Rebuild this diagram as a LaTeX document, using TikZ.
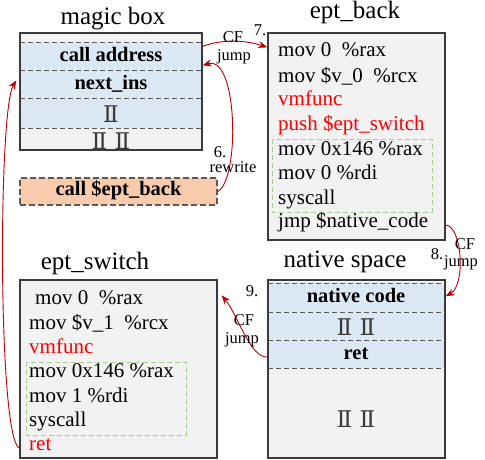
\documentclass[tikz,border=0pt]{standalone}
\usepackage{fontspec}
\setmainfont{Liberation Serif}
\newfontfamily\numeralfont{DejaVu Serif}
\usetikzlibrary{arrows.meta}
\definecolor{boxgray}{HTML}{3A3A3A}
\definecolor{dashgray}{HTML}{5A5A5A}
\definecolor{panelfill}{HTML}{F2F2F2}
\definecolor{bandfill}{HTML}{DCE8F4}
\definecolor{peach}{HTML}{F8CBAD}
\definecolor{leaf}{HTML}{A9D18E}
\definecolor{flowred}{HTML}{C00000}
\definecolor{hot}{HTML}{FF0000}
\tikzset{
  panel/.style={draw=boxgray, line width=1.3pt, fill=panelfill, inner sep=0pt},
  rim/.style={draw=boxgray, line width=1.3pt},
  sep/.style={draw=dashgray, dashed, dash pattern=on 5pt off 3pt, line width=1pt},
  greenbox/.style={draw=leaf, dashed, dash pattern=on 5pt off 3pt, line width=0.9pt},
  flow/.style={draw=flowred, line width=0.9pt, -{Stealth[length=9pt,width=7pt]}},
  title/.style={anchor=mid, inner sep=0pt, font=\fontsize{25}{25}\selectfont},
  code/.style={anchor=mid west, inner sep=0pt, font=\fontsize{21}{21}\selectfont},
  redcode/.style={code, text=hot},
  slot/.style={anchor=mid, inner sep=0pt, font=\fontsize{20.5}{20.5}\selectfont\bfseries},
  gap/.style={anchor=center, inner sep=0pt, font=\numeralfont\fontsize{23}{23}\selectfont, text=boxgray},
  lbl/.style={anchor=center, inner sep=0pt, font=\fontsize{16.5}{16.5}\selectfont},
}
\begin{document}
\begin{tikzpicture}[x=1pt,y=-1pt]
\useasboundingbox (0,0) rectangle (485,460);

% ---------- magic box ----------
\node[title] (tmagic) at (113,22) {magic box};
\node[panel, minimum width=182pt, minimum height=117pt] (magic) at (111,91.5) {};
\fill[bandfill] (20.6,43) rectangle (201.4,128);
\draw[sep] (20,43) -- (202,43);
\draw[sep] (20,71) -- (202,71);
\draw[sep] (20,99) -- (202,99);
\draw[sep] (20,128) -- (202,128);
\draw[rim] (magic.north west) rectangle (magic.south east);
\node[slot] (addr) at (111,59) {call address};
\node[slot] (nexti) at (111,87) {next\_ins};
\node[gap] (mgap1) at (111,114) {Ⅱ};
\node[gap] (mgap2) at (111,141) {Ⅱ Ⅱ};

% ---------- call stub ----------
\node[draw=dashgray, dashed, dash pattern=on 6pt off 3pt, line width=1.3pt, fill=peach,
      minimum width=197pt, minimum height=27pt, inner sep=0pt] (callback) at (118.5,191.5) {};
\node[slot] (callt) at (118.5,193) {call \$ept\_back};

% ---------- ept_back ----------
\node[title] (tback) at (355,16) {ept\_back};
\node[panel, minimum width=177pt, minimum height=207pt] (eptback) at (356.5,136.5) {};
\draw[greenbox] (272,139) rectangle (432,212);
\node[code] (b1) at (278,54) {mov 0\ \ \%rax};
\node[code] (b2) at (278,80) {mov \$v\_0\ \ \%rcx};
\node[redcode] (b3) at (278,103) {vmfunc};
\node[redcode] (b4) at (278,128) {push \$ept\_switch};
\node[code] (b5) at (278,153) {mov 0x146 \%rax};
\node[code] (b6) at (278,177) {mov 0 \%rdi};
\node[code] (b7) at (278,202) {syscall};
\node[code] (jmpn) at (278,225) {jmp \$native\_code};

% ---------- ept_switch ----------
\node[title] (tswitch) at (95,267) {ept\_switch};
\node[panel, minimum width=197pt, minimum height=178pt] (eptswitch) at (118.5,369) {};
\draw[greenbox] (26,362) rectangle (186,435);
\node[code] (s1) at (35,302) {mov 0\ \ \%rax};
\node[code] (s2) at (29,327) {mov \$v\_1\ \ \%rcx};
\node[redcode] (s3) at (29,351) {vmfunc};
\node[code] (s4) at (29,375) {mov 0x146 \%rax};
\node[code] (s5) at (29,400) {mov 1 \%rdi};
\node[code] (s6) at (29,424) {syscall};
\node[redcode] (retb) at (29,448) {ret};

% ---------- native space ----------
\node[title] (tnative) at (345,265) {native space};
\node[panel, minimum width=177pt, minimum height=178pt] (native) at (356.5,369) {};
\fill[bandfill] (268.6,283) rectangle (444.4,368);
\draw[sep] (268,283) -- (445,283);
\draw[sep] (268,312) -- (445,312);
\draw[sep] (268,340) -- (445,340);
\draw[sep] (268,368) -- (445,368);
\draw[rim] (native.north west) rectangle (native.south east);
\node[slot] (ncode) at (356,300) {native code};
\node[gap] (ngap1) at (356,327) {Ⅱ Ⅱ};
\node[slot] (nret) at (356,357) {ret};
\node[gap] (ngap2) at (356,419) {Ⅱ Ⅱ};

% ---------- control-flow arrows ----------
% 6. rewrite
\draw[flow] (callback.east) .. controls (240,180) and (238,55) .. ([yshift=-33pt]magic.north east);
\node[lbl] (l6) at (220,152) {6.};
\node[lbl] (l6b) at (233,167) {rewrite};
% 7. CF jump
\draw[flow] ([yshift=-14pt]magic.north east) .. controls (225,38) and (248,41) .. ([yshift=-15pt]eptback.north west);
\node[lbl] (l7) at (260,30) {7.};
\node[lbl] (l7a) at (233,37) {CF};
\node[lbl] (l7b) at (234,57) {jump};
% 8. CF jump
\draw[flow] (eptback.east |- jmpn.mid) .. controls (462,226) and (466,285) .. ([yshift=-17pt]native.north east);
\node[lbl] (l8) at (437,254) {8.};
\node[lbl] (l8a) at (465,244) {CF};
\node[lbl] (l8b) at (461,263) {jump};
% 9. CF jump
\draw[flow] (native.west |- nret.mid) .. controls (250,358) and (238,315) .. ([xshift=4pt,yshift=-16pt]eptswitch.north east);
\node[lbl] (l9) at (252,291) {9.};
\node[lbl] (l9a) at (244,320) {CF};
\node[lbl] (l9b) at (242,340) {jump};
% return into the magic box
\draw[flow] (eptswitch.west |- retb.mid) .. controls (-2,440) and (-2,110) .. ([xshift=-3pt,yshift=-48pt]magic.north west);
\end{tikzpicture}
\end{document}
